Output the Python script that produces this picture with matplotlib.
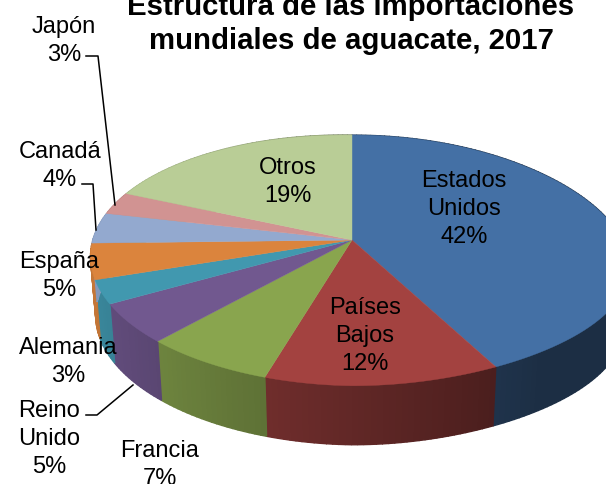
import matplotlib
matplotlib.use('Agg')
import matplotlib.pyplot as plt
import numpy as np

plt.rcParams['font.family'] = ['Liberation Sans', 'DejaVu Sans']

title = 'Estructura de las importaciones\nmundiales de aguacate, 2017'
names = ['Estados\nUnidos', 'Países\nBajos', 'Francia', 'Reino\nUnido', 'Alemania',
         'España', 'Canadá', 'Japón', 'Otros']
# the labels show them rounded
values = [42.2, 12.4, 6.9, 5, 3, 4.6, 4, 3, 18.9]
colors = ['#4470A5', '#A34240', '#89A54E', '#71588F', '#4198AF',
          '#DB843D', '#93A9CF', '#D19392', '#B9CD96']
label_pos = [(464, 209), (365, 336), (160, 465), (49, 439), (68, 362),
             (59, 276), (60, 166), (64, 41), (288, 182)]

# fake 3d: circle seen through a perspective, numbers tuned by eye
cx, cy = 352, 241
a, b, k = 258, 122, 0.163
depth = 59


def top_point(theta):
    u, v = np.sin(theta), -np.cos(theta)
    d = 1 - k * v
    x = (a + 16 * np.maximum(u, 0) ** 2) * u / d
    y = b * v / d + 0.015 * np.minimum(x, 0) + 0.4e-6 * np.maximum(x, 0) ** 3
    return cx + x, cy + y


def darken(col, theta):
    u = np.sin(theta)
    f = np.maximum(0.6 - 0.3 * u, 0.41)
    return tuple(np.array(matplotlib.colors.to_rgb(col)) * f)


fig = plt.figure(figsize=(6.06, 4.85), dpi=100)
ax = fig.add_axes([0, 0, 1, 1])
ax.set_xlim(0, 606)
ax.set_ylim(485, 0)
ax.axis('off')

edges = np.cumsum([0] + values) / sum(values) * 2 * np.pi

# side wall first, thin strips so the shade changes along the rim
for i, col in enumerate(colors):
    th = np.linspace(edges[i], edges[i + 1], int(values[i] * 3) + 2)
    for t0, t1 in zip(th[:-1], th[1:]):
        x0, y0 = top_point(t0)
        x1, y1 = top_point(t1)
        s0 = (x0 - cx) * 0.02
        s1 = (x1 - cx) * 0.02
        c = darken(col, (t0 + t1) / 2)
        ax.fill([x0, x1, x1 - s1, x0 - s0], [y0, y1, y1 + depth, y0 + depth],
                color=c, lw=1.0, zorder=1)

# top face
for i, col in enumerate(colors):
    th = np.linspace(edges[i], edges[i + 1], 80)
    x, y = top_point(th)
    ax.fill(np.r_[cx, x], np.r_[cy, y], color=col, lw=0.3, zorder=2)

# leader lines
ax.plot([86, 98, 115], [57, 57, 206], color='black', lw=1.1, zorder=3)
ax.plot([82, 93, 96], [185, 185, 231], color='black', lw=1.1, zorder=3)
ax.plot([86, 97, 133], [416, 416, 386], color='black', lw=1.1, zorder=3)

for name, val, (px, py) in zip(names, values, label_pos):
    ax.text(px, py, f'{name}\n{round(val)}%', ha='center', va='center',
            fontsize=17, color='black', linespacing=1.33, zorder=4)

ax.text(351, 24, title, ha='center', va='center', fontsize=21.2,
        fontweight='bold', color='black', linespacing=1.28, zorder=4)

fig.savefig('out.png', dpi=100)
plt.close()
